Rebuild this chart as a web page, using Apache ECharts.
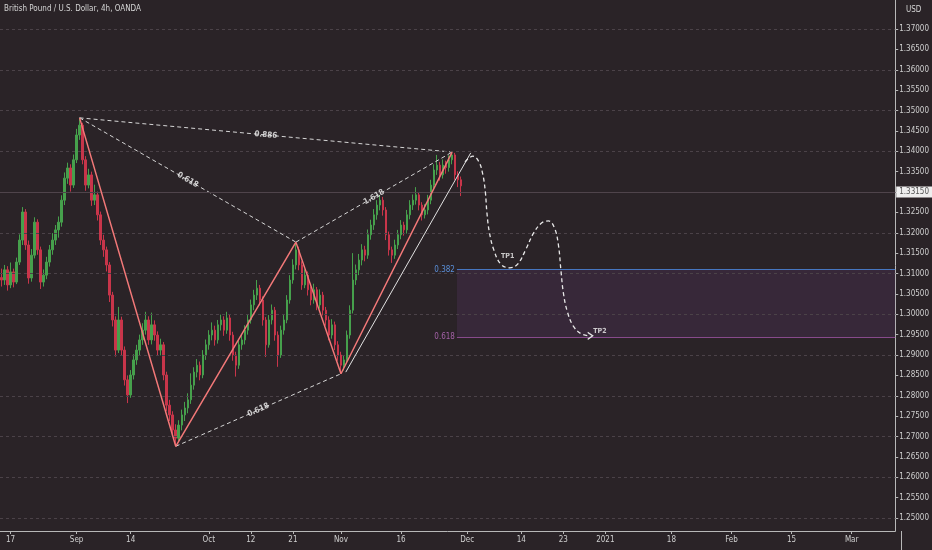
<!DOCTYPE html>
<html><head><meta charset="utf-8">
<script src="https://cdn.jsdelivr.net/npm/echarts@6/dist/echarts.min.js"></script>
<style>html,body{margin:0;padding:0;background:#2a2327}#c{width:932px;height:550px}</style>
</head><body><div id="c"></div>
<script>
// ---- data ----
const title = 'British Pound / U.S. Dollar, 4h, OANDA';
const tickLabels = ['17','Sep','14','Oct','12','21','Nov','16','Dec','14','23','2021','18','Feb','15','Mar'];
const tickDays = [0,11,20,33,40,47,55,65,76,85,92,99,110,120,130,140]; // trading days from Aug 17
const priceTicks = [1.25,1.255,1.26,1.265,1.27,1.275,1.28,1.285,1.29,1.295,1.30,1.305,1.31,1.315,1.32,1.325,1.33,1.335,1.34,1.345,1.35,1.355,1.36,1.365,1.37];
const gridPrices = priceTicks.concat([1.375]);
// half-day candles [open, close, low, high]
const candles = [
[1.3090,1.3084,1.3068,1.3112],[1.3084,1.3109,1.3072,1.3121],[1.3109,1.3072,1.3058,1.3118],[1.3072,1.3104,1.3064,1.3127],
[1.3104,1.3079,1.3066,1.3112],[1.3079,1.3128,1.3074,1.3139],[1.3128,1.3182,1.3121,1.3196],[1.3182,1.3251,1.3170,1.3263],
[1.3251,1.3170,1.3158,1.3258],[1.3170,1.3089,1.3075,1.3181],[1.3089,1.3145,1.3080,1.3160],[1.3145,1.3226,1.3137,1.3238],
[1.3226,1.3158,1.3146,1.3233],[1.3158,1.3079,1.3062,1.3166],[1.3079,1.3096,1.3068,1.3110],[1.3096,1.3128,1.3086,1.3141],
[1.3128,1.3158,1.3117,1.3170],[1.3158,1.3182,1.3146,1.3199],[1.3182,1.3207,1.3170,1.3219],[1.3207,1.3226,1.3188,1.3240],
[1.3226,1.3280,1.3215,1.3292],[1.3280,1.3334,1.3268,1.3348],[1.3334,1.3359,1.3320,1.3372],[1.3359,1.3317,1.3301,1.3368],
[1.3317,1.3379,1.3310,1.3392],[1.3379,1.3440,1.3371,1.3455],[1.3440,1.3464,1.3428,1.3482],[1.3464,1.3379,1.3368,1.3470],
[1.3379,1.3317,1.3303,1.3388],[1.3317,1.3342,1.3309,1.3357],[1.3342,1.3280,1.3266,1.3350],[1.3280,1.3293,1.3268,1.3318],
[1.3293,1.3244,1.3230,1.3301],[1.3244,1.3182,1.3170,1.3252],[1.3182,1.3158,1.3141,1.3195],[1.3158,1.3121,1.3105,1.3166],
[1.3121,1.3047,1.3030,1.3128],[1.3047,1.2986,1.2970,1.3055],[1.2986,1.2912,1.2896,1.2995],[1.2912,1.2986,1.2905,1.3018],
[1.2986,1.2912,1.2898,1.2994],[1.2912,1.2839,1.2825,1.2921],[1.2839,1.2802,1.2782,1.2850],[1.2802,1.2851,1.2795,1.2863],
[1.2851,1.2888,1.2840,1.2902],[1.2888,1.2912,1.2876,1.2925],[1.2912,1.2937,1.2900,1.2950],[1.2937,1.2961,1.2925,1.2978],
[1.2961,1.2986,1.2950,1.3006],[1.2986,1.2937,1.2925,1.2995],[1.2937,1.2974,1.2926,1.3004],[1.2974,1.2949,1.2935,1.2985],
[1.2949,1.2912,1.2900,1.2958],[1.2912,1.2925,1.2899,1.2940],[1.2925,1.2851,1.2838,1.2932],[1.2851,1.2777,1.2762,1.2859],
[1.2777,1.2753,1.2738,1.2790],[1.2753,1.2716,1.2700,1.2762],[1.2716,1.2696,1.2676,1.2730],[1.2696,1.2728,1.2688,1.2740],
[1.2728,1.2753,1.2715,1.2766],[1.2753,1.2770,1.2738,1.2785],[1.2770,1.2790,1.2757,1.2806],[1.2790,1.2826,1.2780,1.2855],
[1.2826,1.2858,1.2815,1.2870],[1.2858,1.2875,1.2845,1.2890],[1.2875,1.2851,1.2838,1.2884],[1.2851,1.2900,1.2843,1.2912],
[1.2900,1.2925,1.2888,1.2938],[1.2925,1.2949,1.2913,1.2961],[1.2949,1.2961,1.2936,1.2980],[1.2961,1.2937,1.2923,1.2972],
[1.2937,1.2974,1.2928,1.2986],[1.2974,1.2986,1.2960,1.2999],[1.2986,1.2961,1.2947,1.2995],[1.2961,1.2991,1.2952,1.3006],
[1.2991,1.2949,1.2935,1.2999],[1.2949,1.2900,1.2886,1.2957],[1.2900,1.2875,1.2847,1.2908],[1.2875,1.2925,1.2866,1.2936],
[1.2925,1.2937,1.2913,1.2950],[1.2937,1.2961,1.2926,1.2973],[1.2961,1.2986,1.2950,1.2998],[1.2986,1.3023,1.2977,1.3036],
[1.3023,1.3047,1.3010,1.3060],[1.3047,1.3064,1.3035,1.3084],[1.3064,1.3035,1.3022,1.3072],[1.3035,1.2986,1.2972,1.3044],
[1.2986,1.2925,1.2895,1.2993],[1.2925,1.2986,1.2918,1.2998],[1.2986,1.3010,1.2975,1.3024],[1.3010,1.2949,1.2935,1.3018],
[1.2949,1.2900,1.2871,1.2958],[1.2900,1.2961,1.2893,1.2972],[1.2961,1.2986,1.2950,1.2998],[1.2986,1.3035,1.2978,1.3047],
[1.3035,1.3084,1.3026,1.3096],[1.3084,1.3121,1.3075,1.3135],[1.3121,1.3158,1.3110,1.3177],[1.3158,1.3121,1.3108,1.3166],
[1.3121,1.3072,1.3060,1.3130],[1.3072,1.3096,1.3064,1.3110],[1.3096,1.3060,1.3046,1.3105],[1.3060,1.3035,1.3022,1.3068],
[1.3035,1.3060,1.3026,1.3075],[1.3060,1.3023,1.3010,1.3067],[1.3023,1.3047,1.3014,1.3061],[1.3047,1.3010,1.2997,1.3055],
[1.3010,1.2986,1.2972,1.3018],[1.2986,1.2949,1.2936,1.2995],[1.2949,1.2974,1.2940,1.2988],[1.2974,1.2925,1.2912,1.2982],
[1.2925,1.2900,1.2886,1.2934],[1.2900,1.2875,1.2854,1.2908],[1.2875,1.2888,1.2862,1.2900],[1.2888,1.2949,1.2880,1.2960],
[1.2949,1.3010,1.2940,1.3022],[1.3010,1.3084,1.3002,1.3150],[1.3084,1.3109,1.3072,1.3122],[1.3109,1.3133,1.3096,1.3148],
[1.3133,1.3158,1.3120,1.3172],[1.3158,1.3145,1.3130,1.3168],[1.3145,1.3195,1.3136,1.3208],[1.3195,1.3219,1.3183,1.3232],
[1.3219,1.3244,1.3207,1.3258],[1.3244,1.3268,1.3232,1.3280],[1.3268,1.3280,1.3255,1.3293],[1.3280,1.3256,1.3242,1.3288],
[1.3256,1.3195,1.3182,1.3263],[1.3195,1.3158,1.3144,1.3203],[1.3158,1.3145,1.3126,1.3166],[1.3145,1.3170,1.3136,1.3183],
[1.3170,1.3195,1.3160,1.3207],[1.3195,1.3219,1.3184,1.3231],[1.3219,1.3207,1.3193,1.3227],[1.3207,1.3244,1.3198,1.3256],
[1.3244,1.3268,1.3233,1.3280],[1.3268,1.3280,1.3256,1.3294],[1.3280,1.3293,1.3269,1.3312],[1.3293,1.3268,1.3255,1.3300],
[1.3268,1.3244,1.3230,1.3275],[1.3244,1.3256,1.3235,1.3270],[1.3256,1.3280,1.3245,1.3293],[1.3280,1.3317,1.3270,1.3330],
[1.3317,1.3354,1.3308,1.3368],[1.3354,1.3366,1.3342,1.3391],[1.3366,1.3342,1.3328,1.3374],[1.3342,1.3366,1.3333,1.3380],
[1.3366,1.3360,1.3345,1.3377],[1.3360,1.3379,1.3350,1.3390],[1.3379,1.3391,1.3368,1.3398],[1.3391,1.3342,1.3330,1.3396],
[1.3342,1.3330,1.3312,1.3351],[1.3330,1.3315,1.3290,1.3338]
];
const lastPrice = 1.33150;
// XABCD pattern points (trading-day index, price)
const xabcdDays = [11.5, 27.5, 47.5, 55, 73.5];
const xabcdPrices = [1.3482, 1.2676, 1.3177, 1.2854, 1.3398];
const ratioPairs = [[0,2],[0,4],[1,3],[2,4]];
const ratioLabels = ['0.618','0.886','0.618','1.618'];
const trendDays = [55.8, 76.6];
const trendPrices = [1.2858, 1.3396];
// projected path
const pathDays = [75.64,76.97,77.96,78.62,79.03,79.28,79.69,80.44,81.60,83.09,84.41,85.73,87.05,88.38,89.54,90.53,91.19,91.60,92.02,92.68,93.67,94.99,96.48];
const pathPrices = [1.3374,1.3388,1.3374,1.3342,1.3300,1.3251,1.3202,1.3158,1.3123,1.3114,1.3123,1.3158,1.3199,1.3224,1.3229,1.3212,1.3170,1.3109,1.3052,1.3006,1.2971,1.2952,1.2947];
const tpLabels = ['TP1','TP2'];
const tpDays = [82.75, 98.1];
const tpPrices = [1.3143, 1.2959];
const fibLabels = ['0.382','0.618'];
const fibLevels = [1.3110, 1.2944];
const fibStartDay = 74.3;

// ---- layout / style ----
const BG = '#2a2327', GRIDC = '#4b4248', AX = '#b8b8b8', TXT = '#cfcfcf';
const FONT = "'Liberation Sans Narrow','DejaVu Sans Condensed',sans-serif";
const slotCount = 298;            // half-day slots
const xMin = -1.75, xMax = 147.25; // day-index range matching the slots
const yMin = 1.24681, yMax = 1.37712;
const UP = '#46a04c', DOWN = '#c8354a';

const slots = [];
for (let i = 0; i < slotCount; i++) slots.push(String(i));
const labelBySlot = new Map();
tickDays.forEach((d, i) => labelBySlot.set(2 * d + 3, tickLabels[i]));

const chart = echarts.init(document.getElementById('c'), null, {renderer: 'canvas'});

const ratioSeries = ratioPairs.map(([a, b], i) => ({
  type: 'line', id: 'ratio' + i, xAxisIndex: 1, yAxisIndex: 0, symbol: 'none', silent: true, z: 4,
  lineStyle: {color: '#d6d6d6', width: 1, type: [4, 3]},
  data: [[xabcdDays[a], xabcdPrices[a]], [xabcdDays[b], xabcdPrices[b]]]
}));

function ratioLabelData(rots) {
  return ratioPairs.map(([a, b], i) => ({
    name: ratioLabels[i],
    value: [(xabcdDays[a] + xabcdDays[b]) / 2, (xabcdPrices[a] + xabcdPrices[b]) / 2],
    label: {rotate: rots ? rots[i] : 0}
  }));
}

const option = {
  backgroundColor: BG,
  animation: false,
  grid: {left: 0, right: 31, top: 0, bottom: 19, containLabel: false},
  xAxis: [{
    type: 'category', data: slots, boundaryGap: true,
    axisLine: {show: true, onZero: false, lineStyle: {color: AX, width: 1}},
    axisTick: {show: true, alignWithLabel: true, length: 3, interval: (i) => labelBySlot.has(i), lineStyle: {color: AX}},
    axisLabel: {interval: (i) => labelBySlot.has(i), formatter: (v, i) => labelBySlot.get(i) || '',
      color: TXT, fontSize: 8, fontFamily: FONT, margin: 5},
    splitLine: {show: false}
  }, {
    type: 'value', min: xMin, max: xMax, show: false, axisLine: {onZero: false}
  }],
  yAxis: [{
    type: 'value', position: 'right', min: yMin, max: yMax,
    axisLine: {show: true, onZero: false, lineStyle: {color: AX, width: 1}},
    axisTick: {show: true, length: 3, customValues: priceTicks, lineStyle: {color: AX}},
    axisLabel: {customValues: priceTicks, formatter: (v) => v.toFixed(5), color: TXT, fontSize: 8, fontFamily: FONT, margin: 4},
    splitLine: {show: false}
  }],
  graphic: [
    {type: 'text', left: 4, top: 5, style: {text: title, fill: '#d4d4d4', fontSize: 8, fontFamily: FONT}},
    {type: 'text', left: 906, top: 6, style: {text: 'USD', fill: '#d4d4d4', fontSize: 8, fontFamily: FONT}},
    {type: 'line', shape: {x1: 901.5, y1: 531, x2: 901.5, y2: 550}, style: {stroke: AX, lineWidth: 1}}
  ],
  series: [
    { type: 'line', id: 'gridlines', xAxisIndex: 1, yAxisIndex: 0, data: [], silent: true, z: 1,
      markLine: {silent: true, symbol: ['none', 'none'], label: {show: false}, animation: false,
        lineStyle: {color: GRIDC, type: [3, 3], width: 1},
        data: gridPrices.map(v => ({yAxis: v}))}
    },
    { type: 'line', id: 'fib', xAxisIndex: 1, yAxisIndex: 0, data: [], silent: true, z: 2,
      markArea: {silent: true, itemStyle: {color: 'rgba(105,60,125,0.22)'},
        data: [[{xAxis: fibStartDay, yAxis: fibLevels[0]}, {xAxis: xMax, yAxis: fibLevels[1]}]]},
      markLine: {silent: true, symbol: ['none', 'none'], animation: false,
        label: {show: true, position: 'start', formatter: '{b}', fontSize: 8, fontFamily: FONT, distance: 2},
        data: [
          [{name: fibLabels[0], coord: [fibStartDay, fibLevels[0]], lineStyle: {color: '#4676c0', width: 1, type: 'solid'}, label: {color: '#5a8fd8'}},
           {coord: [xMax, fibLevels[0]]}],
          [{name: fibLabels[1], coord: [fibStartDay, fibLevels[1]], lineStyle: {color: '#874a8b', width: 1, type: 'solid'}, label: {color: '#a361a6'}},
           {coord: [xMax, fibLevels[1]]}]
        ]}
    },
    { type: 'candlestick', id: 'price', xAxisIndex: 0, yAxisIndex: 0, data: candles, barWidth: 2, z: 3,
      itemStyle: {color: UP, color0: DOWN, borderColor: UP, borderColor0: DOWN, borderWidth: 1},
      markLine: {silent: true, symbol: ['none', 'none'], animation: false,
        lineStyle: {color: '#4f444b', width: 1, type: 'solid'},
        label: {show: true, position: 'end', formatter: () => lastPrice.toFixed(5), distance: 1,
          backgroundColor: '#eeeeee', color: '#555', fontSize: 8, fontFamily: FONT, padding: [2, 3, 1, 3]},
        data: [{yAxis: lastPrice}]}
    },
    { type: 'line', id: 'zigzag', xAxisIndex: 1, yAxisIndex: 0, symbol: 'none', silent: true, z: 5,
      lineStyle: {color: '#f27878', width: 1.5},
      data: xabcdDays.map((d, i) => [d, xabcdPrices[i]])
    },
    { type: 'line', id: 'trend', xAxisIndex: 1, yAxisIndex: 0, symbol: 'none', silent: true, z: 5,
      lineStyle: {color: '#e2e2e2', width: 1},
      data: trendDays.map((d, i) => [d, trendPrices[i]])
    },
    ...ratioSeries,
    { type: 'scatter', id: 'ratioLabels', xAxisIndex: 1, yAxisIndex: 0, symbolSize: 0, silent: true, z: 6,
      label: {show: true, position: 'inside', formatter: '{b}', color: '#f2f2f2', fontSize: 8, fontWeight: 'bold', fontFamily: FONT},
      data: ratioLabelData(null)
    },
    { type: 'line', id: 'projection', xAxisIndex: 1, yAxisIndex: 0, symbol: 'none', smooth: 0.4, silent: true, z: 5,
      lineStyle: {color: '#e8e8e8', width: 1.3, type: [4, 3]},
      data: pathDays.map((d, i) => [d, pathPrices[i]]),
      markPoint: {silent: true, symbol: 'path://M0,0L8,5L0,10', symbolSize: [5, 7], symbolKeepAspect: false,
        itemStyle: {color: 'none', borderColor: '#e8e8e8', borderWidth: 1.2}, label: {show: false},
        data: [{coord: [pathDays[pathDays.length - 1], pathPrices[pathPrices.length - 1]]}]}
    },
    { type: 'scatter', id: 'tp', xAxisIndex: 1, yAxisIndex: 0, symbolSize: 0, silent: true, z: 6,
      label: {show: true, position: 'inside', formatter: '{b}', color: '#f0f0f0', fontSize: 7, fontWeight: 'bold', fontFamily: FONT},
      data: tpLabels.map((t, i) => ({name: t, value: [tpDays[i], tpPrices[i]]}))
    }
  ]
};

chart.setOption(option);
const rots = ratioPairs.map(([a, b]) => {
  const p1 = chart.convertToPixel({seriesId: 'zigzag'}, [xabcdDays[a], xabcdPrices[a]]);
  const p2 = chart.convertToPixel({seriesId: 'zigzag'}, [xabcdDays[b], xabcdPrices[b]]);
  return -Math.atan2(p2[1] - p1[1], p2[0] - p1[0]) * 180 / Math.PI;
});
chart.setOption({series: [{id: 'ratioLabels', data: ratioLabelData(rots)}]});
</script>
</body></html>
